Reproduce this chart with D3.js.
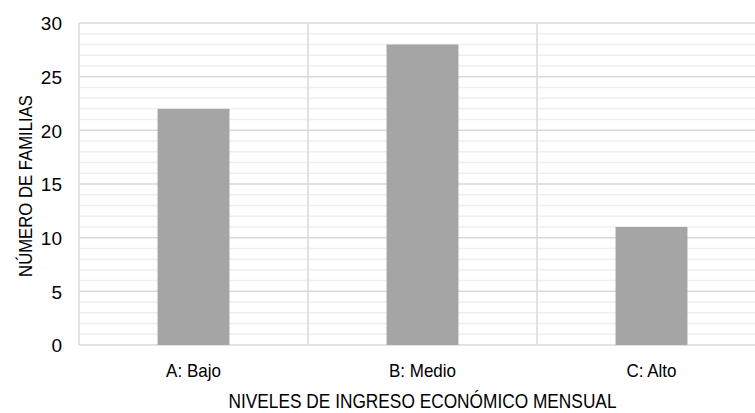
<!DOCTYPE html>
<html>
<head>
<meta charset="utf-8">
<script src="https://cdn.jsdelivr.net/npm/d3@7"></script>
<style>
	body { margin: 0; background: #fff; }
	text { font-family: "Liberation Sans", Arial, sans-serif; fill: #000; }
</style>
</head>
<body>
<div id="chart"></div>
<script>
// datos del gráfico
let categorias = ['A: Bajo', 'B: Medio', 'C: Alto'];
let familias = [22, 28, 11];
let ticksY = [0, 5, 10, 15, 20, 25, 30];
let tituloX = 'NIVELES DE INGRESO ECONÓMICO MENSUAL';
let tituloY = 'NÚMERO DE FAMILIAS';

let w = 755, h = 413;
let m = {left: 79, top: 23, right: 766, bottom: 345};

let svg = d3.select('#chart').append('svg').attr('width', w).attr('height', h);

let x = d3.scaleBand().domain(categorias).range([m.left, m.right]).paddingInner(0).paddingOuter(0);
let y = d3.scaleLinear().domain([0, 30]).range([m.bottom, m.top]);

// rejilla menor
let gGrid = svg.append('g');
gGrid.selectAll('line.minor').data(d3.range(0, 31, 1).filter(d => d % 5 != 0)).enter()
	.append('line').attr('class', 'minor')
	.attr('x1', m.left).attr('x2', m.right)
	.attr('y1', d => y(d)).attr('y2', d => y(d))
	.attr('stroke', '#efefef').attr('stroke-width', 1.5);
// rejilla mayor
gGrid.selectAll('line.major').data(ticksY).enter()
	.append('line').attr('class', 'major')
	.attr('x1', m.left).attr('x2', m.right)
	.attr('y1', d => y(d)).attr('y2', d => y(d))
	.attr('stroke', '#d9d9d9').attr('stroke-width', 1.5);
// lineas verticales entre categorías
let bordes = categorias.map(c => x(c)).concat([x(categorias[categorias.length - 1]) + x.bandwidth()]);
gGrid.selectAll('line.vert').data(bordes).enter()
	.append('line').attr('class', 'vert')
	.attr('x1', d => d).attr('x2', d => d)
	.attr('y1', m.top).attr('y2', m.bottom)
	.attr('stroke', '#d9d9d9').attr('stroke-width', 1.5);

// barras
let anchoBarra = x.bandwidth() * 0.314;
svg.append('g').selectAll('rect').data(familias).enter()
	.append('rect')
	.attr('x', (d, i) => x(categorias[i]) + x.bandwidth() / 2 - anchoBarra / 2)
	.attr('y', d => y(d))
	.attr('width', anchoBarra)
	.attr('height', d => y(0) - y(d))
	.attr('fill', '#a5a5a5');

// eje Y
let ejeY = svg.append('g').attr('transform', `translate(${m.left},0)`)
	.call(d3.axisLeft(y).tickValues(ticksY).tickSize(0).tickPadding(17));
ejeY.select('.domain').remove();
ejeY.selectAll('text').style('font-size', '19px').attr('font-family', null)
	.attr('dy', '0.36em');

// eje X (texto algo estirado en vertical, como en la imagen)
let ejeX = svg.append('g').attr('transform', `translate(0,${m.bottom})`)
	.call(d3.axisBottom(x).tickSize(0));
ejeX.select('.domain').remove();
ejeX.selectAll('text').style('font-size', '17px').attr('font-family', null)
	.attr('y', 0).attr('dy', 0)
	.attr('transform', 'translate(0,32) scale(1,1.08)');

// títulos
svg.append('text')
	.attr('transform', `translate(${(m.left + m.right) / 2},408) scale(1,1.15)`)
	.attr('text-anchor', 'middle')
	.style('font-size', '17.3px').text(tituloX);
svg.append('text')
	.attr('transform', `translate(31.5,${(m.top + m.bottom) / 2 + 2}) rotate(-90) scale(1,1.1)`)
	.attr('text-anchor', 'middle').style('font-size', '16.7px').text(tituloY);
</script>
</body>
</html>
